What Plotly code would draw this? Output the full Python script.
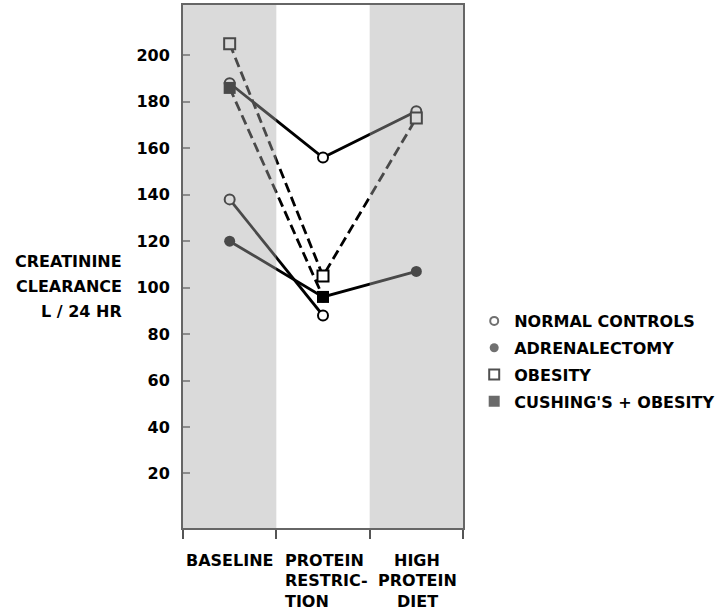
import plotly.graph_objects as go

# Study phases (x categories) and creatinine clearance (L/24 hr)
phases = [["BASELINE"], ["PROTEIN", "RESTRIC-", "TION"], ["HIGH", "PROTEIN", "DIET"]]
phase_pos = [0, 1, 2]

normal_controls_a = [188, 156, 176]
normal_controls_b = [138, 88, None]
adrenalectomy = [120, 96, 107]
obesity = [205, 105, 173]
cushings_obesity = [186, 96, None]

y_ticks = [20, 40, 60, 80, 100, 120, 140, 160, 180, 200]

FONT = dict(family="DejaVu Sans", size=16, color="black", weight="bold")
INK = "black"

fig = go.Figure()

series = [
    dict(y=normal_controls_a, dash="solid", sym="circle", fill="white", size=10, lw=2),
    dict(y=normal_controls_b, dash="solid", sym="circle", fill="white", size=10, lw=2),
    dict(y=adrenalectomy, dash="solid", sym="circle", fill=INK, size=11, lw=0),
    dict(y=obesity, dash="10px,5px", sym="square", fill="white", size=11, lw=2),
    dict(y=cushings_obesity, dash="10px,5px", sym="square", fill=INK, size=12, lw=0),
]

# connecting lines first
for s in series:
    fig.add_trace(go.Scatter(
        x=phase_pos, y=s["y"], mode="lines",
        line=dict(color=INK, width=2.8, dash=s["dash"]),
        showlegend=False, hoverinfo="skip"))

# markers on top of every line
for s in series:
    fig.add_trace(go.Scatter(
        x=phase_pos, y=s["y"], mode="markers",
        marker=dict(symbol=s["sym"], size=s["size"], color=s["fill"],
                    line=dict(color=INK, width=s["lw"])),
        showlegend=False, hoverinfo="skip"))

# legend keys
legend_items = [
    ("NORMAL CONTROLS", "circle", "white", "#707070", 8, 2),
    ("ADRENALECTOMY", "circle", "#707070", "#707070", 9, 0),
    ("OBESITY", "square", "white", "#505050", 10, 2),
    ("CUSHING'S + OBESITY", "square", "#6a6a6a", "#6a6a6a", 11, 0),
]
for i, (name, sym, fill, edge, size, lw) in enumerate(legend_items):
    fig.add_trace(go.Scatter(
        x=[None], y=[None], mode="markers", name=name, legendgroup=f"g{i}",
        marker=dict(symbol=sym, size=size, color=fill, line=dict(color=edge, width=lw))))

# stippled bands behind baseline and high-protein columns (drawn over the marks
# so the ink inside them prints grey)
for x0, x1 in [(-0.5, 0.5), (1.5, 2.5)]:
    fig.add_shape(type="rect", xref="x", yref="paper", x0=x0, x1=x1, y0=0, y1=1,
                  fillcolor="rgba(170,170,170,0.43)", line=dict(width=0), layer="above")

# y-axis title, one annotation per line
for j, txt in enumerate(["CREATININE", "CLEARANCE", "L / 24 HR"]):
    fig.add_annotation(text=txt, xref="paper", yref="paper", x=0, xshift=-59,
                       y=(528 - 261 - 25 * j) / 523, xanchor="right", yanchor="middle",
                       showarrow=False, font=FONT, align="right")

# phase labels under the axis, one annotation per line
for pos, lines, shift, anchor in zip(phase_pos, phases, [0, -40, 1], ["center", "left", "center"]):
    for k, txt in enumerate(lines):
        fig.add_annotation(text=txt, xref="x", yref="paper", x=pos,
                           y=(528 - 560 - 20.5 * k) / 523, xshift=shift,
                           xanchor=anchor, yanchor="middle",
                           showarrow=False, font=FONT)

fig.update_layout(
    width=721, height=611,
    margin=dict(l=183, r=258, t=5, b=83, autoexpand=False),
    paper_bgcolor="white", plot_bgcolor="white",
    font=FONT,
    showlegend=True,
    legend=dict(x=1.04, y=(528 - 304) / 523, xanchor="left", yanchor="top",
                font=FONT, tracegroupgap=3, bgcolor="rgba(0,0,0,0)",
                itemsizing="trace"),
)

fig.update_xaxes(
    range=[-0.5, 2.5], showgrid=False, zeroline=False,
    showline=True, mirror=True, linecolor="#666", linewidth=2,
    tickvals=[], showticklabels=False,
    minor=dict(tickmode="array", tickvals=[-0.5, 0.5, 1.5, 2.5], ticks="outside",
               ticklen=9, tickwidth=2, tickcolor="#555", showgrid=False),
)
fig.update_yaxes(
    range=[-3.5, 221.7], showgrid=False, zeroline=False,
    showline=True, mirror=True, linecolor="#666", linewidth=2,
    tickvals=y_ticks, ticks="inside", ticklen=7, tickwidth=2, tickcolor="#777",
    ticklabelstandoff=8, tickfont=FONT,
)

fig.write_html("out.html")
